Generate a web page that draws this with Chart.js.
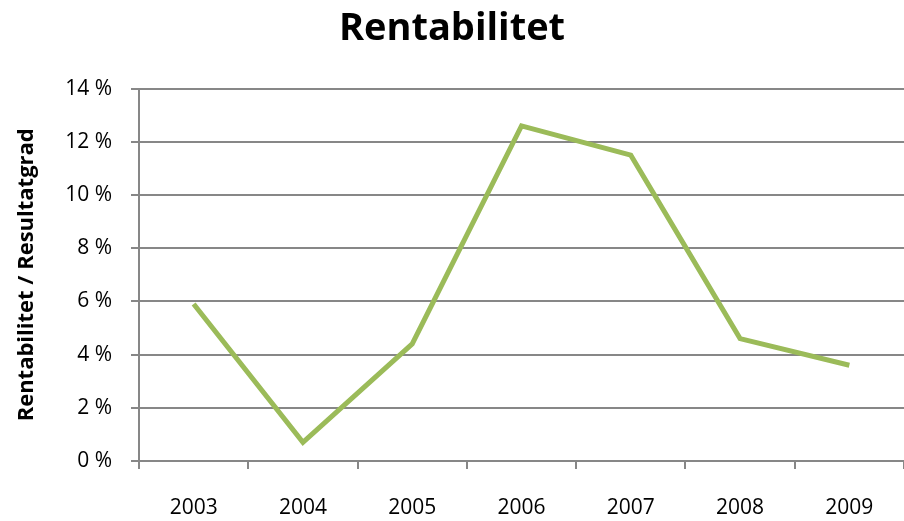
<!DOCTYPE html>
<html>
<head>
<meta charset="utf-8">
<script src="https://cdn.jsdelivr.net/npm/chart.js@4"></script>
<style>
  html, body { margin: 0; padding: 0; background: #fff; }
  #wrap { width: 904px; height: 521px; }
</style>
</head>
<body>
<div id="wrap"><canvas id="myChart" width="904" height="521"></canvas></div>
<script>
// data
const years = ['2003', '2004', '2005', '2006', '2007', '2008', '2009'];
const rentabilitet = [5.9, 0.7, 4.4, 12.6, 11.5, 4.6, 3.6];
const yTicks = [0, 2, 4, 6, 8, 10, 12, 14];

const font = '"Open Sans", Lato, sans-serif';
const gridColor = '#878787';

var ctx = document.getElementById('myChart').getContext('2d');
var chart = new Chart(ctx, {
    type: 'line',
    data: {
        labels: years,
        datasets: [{
            label: 'Rentabilitet',
            data: rentabilitet,
            borderColor: '#9BBB59',
            backgroundColor: '#9BBB59',
            borderWidth: 5,
            pointRadius: 0,
            tension: 0,
            borderJoinStyle: 'miter'
        }]
    },
    options: {
        responsive: false,
        animation: false,
        layout: { padding: 0 },
        plugins: {
            legend: { display: false },
            tooltip: { enabled: false },
            title: {
                display: true,
                text: 'Rentabilitet',
                color: '#000',
                font: { family: font, size: 38, weight: 'bold' },
                padding: { top: 6, bottom: 37 }
            }
        },
        scales: {
            x: {
                offset: true,
                afterFit: (scale) => { scale.height = 60; },
                grid: {
                    offset: true,
                    drawOnChartArea: false,
                    color: gridColor,
                    lineWidth: 2,
                    tickLength: 8
                },
                border: { display: false },
                ticks: {
                    color: '#000',
                    font: { family: font, size: 21 },
                    padding: 26,
                    maxRotation: 0
                }
            },
            y: {
                min: 0,
                max: 14,
                afterBuildTicks: (scale) => {
                    scale.ticks = yTicks.map(v => ({ value: v }));
                },
                afterFit: (scale) => { scale.width = 139; },
                grid: {
                    color: gridColor,
                    lineWidth: 2,
                    tickLength: 8
                },
                border: { color: gridColor, width: 2 },
                ticks: {
                    color: '#000',
                    font: { family: font, size: 21 },
                    padding: 19,
                    callback: (v) => v + ' %'
                },
                title: {
                    display: true,
                    text: 'Rentabilitet / Resultatgrad',
                    color: '#000',
                    font: { family: font, size: 22, weight: 'bold' },
                    padding: { top: 14, bottom: 0 }
                }
            }
        }
    }
});
</script>
</body>
</html>
